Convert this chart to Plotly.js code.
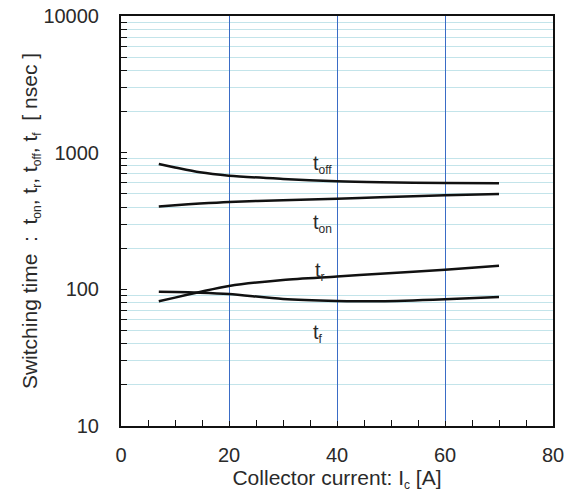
<!DOCTYPE html>
<html>
<head>
<meta charset="utf-8">
<script src="https://cdn.plot.ly/plotly-3.0.1.min.js"></script>
<style>html,body{margin:0;padding:0;background:#fff;}#chart{width:569px;height:496px;}</style>
</head>
<body>
<div id="chart"></div>
<script>
var icCurrent = [7, 10, 14.6, 20, 30, 40, 48, 60, 70];
var tOff = [827, 780, 718, 679, 643, 617, 607, 600, 597];
var tOn  = [403, 412, 424, 436, 449, 461, 471, 487, 499];
var tR   = [81.7, 87, 95.6, 105.7, 117, 124, 130, 139, 149];
var tF   = [96, 95.5, 94.6, 92.5, 85, 82.3, 81.7, 84.5, 88];
var labelSub = ['off', 'on', 'r', 'f'];
var labelX = [35.2, 35.2, 35.6, 35.2];
var labelY = [817, 302, 135, 47.7];
var xTicks = [0, 20, 40, 60, 80];
var yTicks = [10, 100, 1000, 10000];

function sub(s, px) { return '<sub><span style="font-size:' + px + 'px">' + s + '</span></sub>'; }

var lineStyle = {color: '#111', width: 2.5, shape: 'spline', smoothing: 0.8};
var traces = [tOff, tOn, tR, tF].map(function (ys) {
  return {x: icCurrent, y: ys, type: 'scatter', mode: 'lines', line: lineStyle, hoverinfo: 'skip', showlegend: false};
});

var FAM = '"Liberation Sans", Arial, sans-serif';
var TXT = '#2a2a2a';
var annotations = labelSub.map(function (s, i) {
  return {x: labelX[i], y: Math.log10(labelY[i]), xref: 'x', yref: 'y', text: 't' + sub(s, 12), showarrow: false,
          xanchor: 'left', yanchor: 'middle', font: {family: FAM, size: 20, color: TXT}};
});

var layout = {
  width: 569, height: 496,
  margin: {l: 121, r: 16, t: 16, b: 70},
  paper_bgcolor: '#fff', plot_bgcolor: '#fff',
  showlegend: false,
  font: {family: FAM, color: TXT},
  xaxis: {
    range: [xTicks[0], xTicks[xTicks.length - 1]], tickmode: 'linear', tick0: xTicks[0], dtick: xTicks[1] - xTicks[0],
    showgrid: true, gridcolor: '#3a6cc6', gridwidth: 1, zeroline: false,
    ticks: 'inside', ticklen: 5, tickcolor: '#111',
    showline: true, linecolor: '#111', linewidth: 2, mirror: true,
    ticklabelstandoff: 10,
    tickfont: {family: FAM, size: 20, color: TXT},
    minor: {dtick: 5, ticks: 'inside', ticklen: 6, tickcolor: '#111', tickwidth: 1, showgrid: false},
    title: {text: 'Collector current: I' + sub('c', 12) + ' [A]', font: {family: FAM, size: 21, color: TXT}, standoff: 0}
  },
  yaxis: {
    type: 'log', range: [Math.log10(yTicks[0]), Math.log10(yTicks[yTicks.length - 1])], dtick: 1, tickformat: 'd',
    showgrid: false, zeroline: false,
    ticks: 'inside', ticklen: 6, tickcolor: '#111',
    showline: true, linecolor: '#111', linewidth: 2, mirror: true,
    ticklabelstandoff: 16,
    tickfont: {family: FAM, size: 20, color: TXT},
    minor: {dtick: 'D1', ticks: 'inside', ticklen: 6, tickcolor: '#111', tickwidth: 1, showgrid: true, gridcolor: '#c3e4ea', gridwidth: 1},
    title: {text: 'Switching time  :  t' + sub('on', 12) + ', t' + sub('r', 12) + ', t' + sub('off', 12) + ', t' + sub('f', 12) + '  [ nsec ]',
            font: {family: FAM, size: 21, color: TXT}, standoff: 0}
  },
  shapes: [
    {type: 'line', xref: 'paper', yref: 'y', x0: 0, x1: 1, y0: 3, y1: 3, line: {color: '#3a60a4', width: 1}, layer: 'below'},
    {type: 'line', xref: 'paper', yref: 'y', x0: 0, x1: 1, y0: 2, y1: 2, line: {color: '#8ea8d6', width: 2}, layer: 'below'}
  ],
  annotations: annotations
};

Plotly.newPlot('chart', traces, layout, {staticPlot: true, displayModeBar: false});
</script>
</body>
</html>
